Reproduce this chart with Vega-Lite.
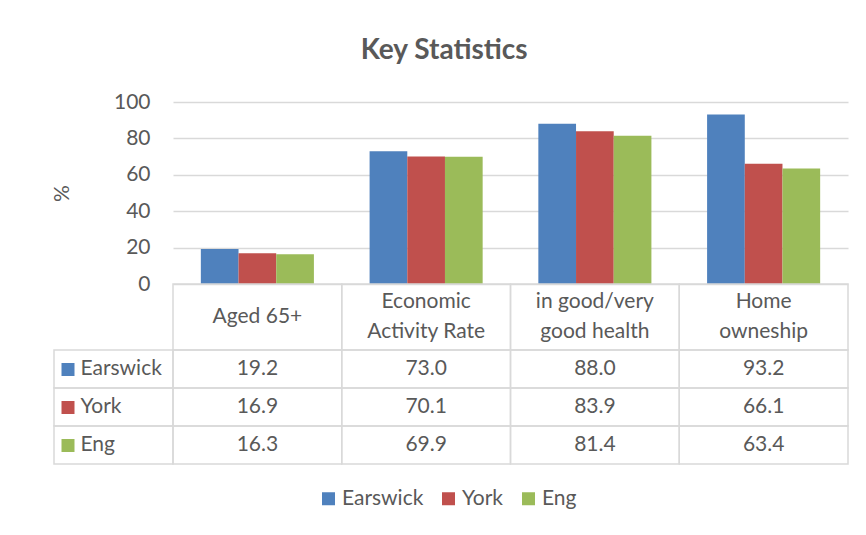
{
  "$schema": "https://vega.github.io/schema/vega-lite/v6.json",
  "padding": {"left": 51, "top": 37, "right": 10, "bottom": 10},
  "title": {"text": "Key Statistics", "fontSize": 28, "fontWeight": "bold", "color": "#595959", "anchor": "middle", "offset": 26, "dx": -6},
  "datasets": {
    "stats": [
      {"cat": "Aged 65+", "series": "Earswick", "value": 19.2},
      {"cat": "Aged 65+", "series": "York", "value": 16.9},
      {"cat": "Aged 65+", "series": "Eng", "value": 16.3},
      {"cat": "Economic Activity Rate", "series": "Earswick", "value": 73.0},
      {"cat": "Economic Activity Rate", "series": "York", "value": 70.1},
      {"cat": "Economic Activity Rate", "series": "Eng", "value": 69.9},
      {"cat": "in good/very good health", "series": "Earswick", "value": 88.0},
      {"cat": "in good/very good health", "series": "York", "value": 83.9},
      {"cat": "in good/very good health", "series": "Eng", "value": 81.4},
      {"cat": "Home owneship", "series": "Earswick", "value": 93.2},
      {"cat": "Home owneship", "series": "York", "value": 66.1},
      {"cat": "Home owneship", "series": "Eng", "value": 63.4}
    ],
    "cats": [
      {"cat": "Aged 65+", "label": "Aged 65+"},
      {"cat": "Economic Activity Rate", "label": "Economic\nActivity Rate"},
      {"cat": "in good/very good health", "label": "in good/very\ngood health"},
      {"cat": "Home owneship", "label": "Home\nowneship"}
    ],
    "series": [
      {"series": "Earswick"},
      {"series": "York"},
      {"series": "Eng"}
    ]
  },
  "bounds": "flush",
  "spacing": 0,
  "columns": 2,
  "concat": [
    {
      "width": 119, "height": 182,
      "data": {"name": "series"},
      "mark": {"type": "point", "opacity": 0},
      "encoding": {}
    },
    {
      "width": 675, "height": 182,
      "data": {"name": "stats"},
      "mark": {"type": "bar"},
      "encoding": {
        "x": {
          "field": "cat", "type": "nominal",
          "sort": ["Aged 65+", "Economic Activity Rate", "in good/very good health", "Home owneship"],
          "scale": {"paddingInner": 0.33, "paddingOuter": 0.165},
          "axis": null
        },
        "xOffset": {"field": "series", "type": "nominal", "sort": ["Earswick", "York", "Eng"], "scale": {"paddingInner": 0, "paddingOuter": 0}},
        "y": {
          "field": "value", "type": "quantitative",
          "scale": {"domain": [0, 100], "nice": false},
          "axis": {
            "title": "%", "titleFontSize": 21, "titleFontWeight": "normal", "titleColor": "#595959", "titlePadding": 41,
            "values": [0, 20, 40, 60, 80, 100],
            "domain": false, "ticks": false, "tickSize": 0, "labelPadding": 23,
            "labelFontSize": 21, "labelColor": "#595959",
            "gridColor": "#d9d9d9", "gridWidth": 1.3
          }
        },
        "color": {
          "field": "series", "type": "nominal",
          "scale": {"domain": ["Earswick", "York", "Eng"], "range": ["#4F81BD", "#C0504D", "#9BBB59"]},
          "legend": {
            "orient": "none", "legendX": 264, "legendY": 386, "direction": "horizontal", "title": null,
            "symbolType": "square", "symbolSize": 169, "symbolStrokeWidth": 0,
            "labelFontSize": 21, "labelColor": "#595959", "columnPadding": 14, "labelOffset": 3
          }
        }
      }
    },
    {
      "width": 119, "height": 66,
      "data": {"name": "series"},
      "mark": {"type": "point", "opacity": 0},
      "encoding": {}
    },
    {
      "width": 675, "height": 66,
      "data": {"name": "cats"},
      "layer": [
        {
          "mark": {"type": "rect", "fill": null, "stroke": "#d9d9d9", "strokeWidth": 1.5},
          "encoding": {
            "x": {"field": "cat", "type": "nominal", "sort": ["Aged 65+", "Economic Activity Rate", "in good/very good health", "Home owneship"], "scale": {"paddingInner": 0, "paddingOuter": 0}, "axis": null}
          }
        },
        {
          "mark": {"type": "text", "fontSize": 21, "color": "#595959", "lineBreak": "\n", "lineHeight": 30, "baseline": "middle", "dy": {"expr": "indexof(datum.label, '\\n') >= 0 ? -15 : 0"}},
          "encoding": {
            "x": {"field": "cat", "type": "nominal", "sort": ["Aged 65+", "Economic Activity Rate", "in good/very good health", "Home owneship"], "axis": null},
            "text": {"field": "label"}
          }
        }
      ]
    },
    {
      "width": 119, "height": 114,
      "data": {"name": "series"},
      "mark": {"type": "rect", "fill": null, "stroke": "#d9d9d9", "strokeWidth": 1.5},
      "encoding": {
        "y": {
          "field": "series", "type": "nominal", "sort": ["Earswick", "York", "Eng"],
          "scale": {"paddingInner": 0, "paddingOuter": 0},
          "axis": {
            "title": null, "domain": false, "grid": false, "offset": -20,
            "tickSize": 13, "tickWidth": 13,
            "tickColor": {"condition": [{"test": "datum.value === 'Earswick'", "value": "#4F81BD"}, {"test": "datum.value === 'York'", "value": "#C0504D"}], "value": "#9BBB59"},
            "labelAlign": "left", "labelPadding": -19, "labelFontSize": 21, "labelColor": "#595959", "zindex": 1
          }
        }
      }
    },
    {
      "width": 675, "height": 114,
      "data": {"name": "stats"},
      "encoding": {
        "x": {"field": "cat", "type": "nominal", "sort": ["Aged 65+", "Economic Activity Rate", "in good/very good health", "Home owneship"], "scale": {"paddingInner": 0, "paddingOuter": 0}, "axis": null},
        "y": {"field": "series", "type": "nominal", "sort": ["Earswick", "York", "Eng"], "scale": {"paddingInner": 0, "paddingOuter": 0}, "axis": null}
      },
      "layer": [
        {"mark": {"type": "rect", "fill": null, "stroke": "#d9d9d9", "strokeWidth": 1.5}},
        {
          "mark": {"type": "text", "fontSize": 21, "color": "#595959", "baseline": "middle"},
          "encoding": {"text": {"field": "value", "type": "quantitative", "format": ".1f"}}
        }
      ]
    }
  ],
  "config": {"view": {"stroke": null}, "font": "Lato"}
}
